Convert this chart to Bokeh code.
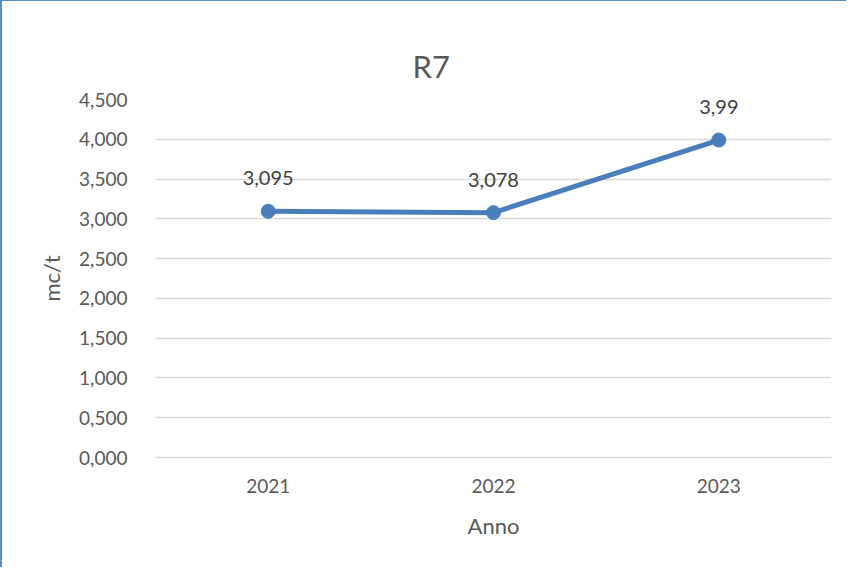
from bokeh.plotting import figure
from bokeh.embed import file_html
from bokeh.resources import INLINE
from bokeh.models import Range1d, FactorRange, FixedTicker, ColumnDataSource, LabelSet
from bokeh.core.properties import value

years = ["2021", "2022", "2023"]
values = [3.095, 3.078, 3.99]
value_labels = ["3,095", "3,078", "3,99"]
y_ticks = [0.0, 0.5, 1.0, 1.5, 2.0, 2.5, 3.0, 3.5, 4.0, 4.5]
y_tick_labels = ["0,000", "0,500", "1,000", "1,500", "2,000", "2,500", "3,000", "3,500", "4,000", "4,500"]
title_text = "R7"

FONT = "Lato"
LINE_COLOR = "#4A7EBB"
TEXT_COLOR = "#595959"

src = ColumnDataSource(dict(x=years, y=values, lab=value_labels))

p = figure(width=846, height=567, x_range=FactorRange(*years), y_range=Range1d(0, 4.5),
           output_backend="svg", toolbar_location=None,
           min_border_left=153, min_border_right=17, min_border_top=98, min_border_bottom=111)

p.title.text = title_text
p.title.align = "left"
p.title.offset = 257
p.title.vertical_align = "top"
p.title.standoff = 26
p.title.text_font = FONT
p.title.text_font_size = "31px"
p.title.text_font_style = "normal"
p.title.text_color = TEXT_COLOR

p.outline_line_color = None
p.styles = {"border-left": "2px solid #5B8BC9", "border-top": "1.5px solid #5B8BC9"}

p.line("x", "y", source=src, line_color=LINE_COLOR, line_width=5)
p.scatter("x", "y", source=src, size=14, fill_color=LINE_COLOR, line_color=LINE_COLOR)

labels = LabelSet(x="x", y="y", text="lab", source=src, text_align="center", text_baseline="middle",
                  y_offset=33, text_font=value(FONT), text_font_size="20px", text_color="#404040")
p.add_layout(labels)

p.yaxis.ticker = FixedTicker(ticks=y_ticks)
p.yaxis.major_label_overrides = {t: l for t, l in zip(y_ticks, y_tick_labels)}
p.ygrid.ticker = FixedTicker(ticks=y_ticks)
p.ygrid.grid_line_color = "#D9D9D9"
p.ygrid.grid_line_width = 1.5
p.xgrid.grid_line_color = None

for ax in (p.xaxis[0], p.yaxis[0]):
    ax.major_tick_line_color = None
    ax.minor_tick_line_color = None
    ax.major_label_text_font = FONT
    ax.major_label_text_font_size = "19px"
    ax.major_label_text_color = TEXT_COLOR
    ax.axis_label_text_font = FONT
    ax.axis_label_text_font_size = "22px"
    ax.axis_label_text_font_style = "normal"
    ax.axis_label_text_color = TEXT_COLOR

p.yaxis.axis_line_color = None
p.yaxis.axis_label = "mc/t"
p.yaxis.major_label_standoff = 22
p.yaxis.axis_label_standoff = 11

p.xaxis.axis_line_color = "#D9D9D9"
p.xaxis.axis_line_width = 1.5
p.xaxis.axis_label = "Anno"
p.xaxis.major_label_standoff = 15
p.xaxis.axis_label_standoff = 16

open("out.html", "w").write(file_html(p, INLINE))
